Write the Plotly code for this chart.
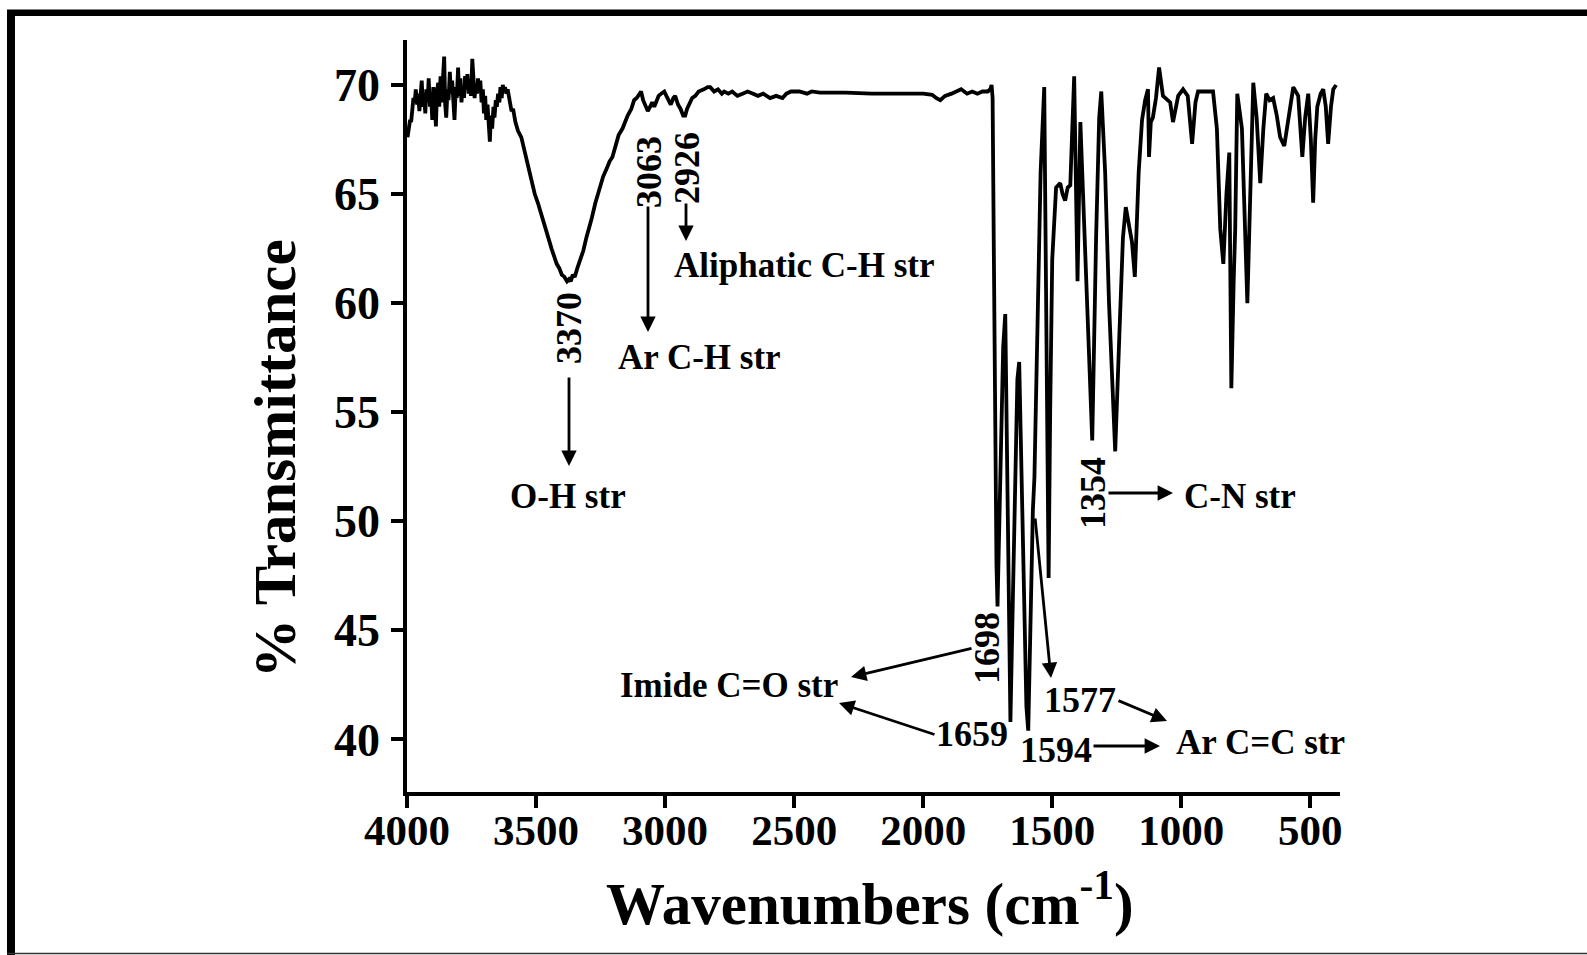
import plotly.graph_objects as go

# ---------------- data ----------------
wavenumber = [
    3998, 3993, 3988, 3984, 3979, 3975, 3970, 3966, 3961, 3957, 3952, 3947, 3943, 3938, 3934,
    3929, 3925, 3920, 3916, 3911, 3907, 3902, 3898, 3893, 3888, 3884, 3879, 3875, 3870, 3866,
    3861, 3856, 3852, 3848, 3843, 3839, 3834, 3830, 3825, 3820, 3816, 3811, 3807, 3802, 3798,
    3793, 3789, 3784, 3779, 3775, 3770, 3766, 3761, 3757, 3752, 3747, 3743, 3738, 3734, 3729,
    3725, 3720, 3716, 3711, 3706, 3702, 3697, 3693, 3688, 3684, 3679, 3675, 3670, 3665, 3661,
    3656, 3652, 3647, 3642, 3638, 3633, 3629, 3624, 3620, 3615, 3610, 3605, 3600, 3595,
    3589, 3580, 3570, 3557, 3545, 3535, 3525, 3515, 3505, 3493, 3480, 3470, 3461, 3450, 3440,
    3430, 3420, 3410, 3400, 3390, 3380, 3372, 3365, 3358, 3350, 3340, 3330, 3317, 3305, 3295,
    3284, 3270, 3260, 3251, 3240, 3225, 3215, 3204, 3190, 3180, 3165, 3155, 3145, 3131, 3120,
    3110, 3100, 3093, 3085, 3075, 3067, 3058, 3050, 3042, 3035, 3025, 3015, 3003, 2995, 2985,
    2978, 2968, 2961, 2950, 2940, 2930, 2922, 2915, 2905, 2895, 2883, 2870, 2850, 2835, 2825,
    2810, 2795, 2780, 2771, 2755, 2740, 2720, 2700, 2680, 2659, 2640, 2620, 2593, 2570, 2545,
    2530, 2512, 2480, 2450, 2432, 2400, 2300, 2200, 2100, 2000, 1965, 1950, 1934, 1915, 1890,
    1870, 1853, 1830, 1810, 1790, 1770, 1750, 1740, 1735, 1731,
    1726, 1720, 1716, 1712, 1700, 1690, 1682, 1675, 1668, 1662, 1655, 1645, 1635, 1628, 1620,
    1610, 1600, 1593, 1585, 1575, 1569, 1560, 1545, 1531, 1524, 1518, 1514, 1508, 1500, 1485,
    1469, 1460, 1450, 1440, 1430, 1415, 1402, 1391, 1375, 1360, 1345, 1330, 1318, 1310, 1295,
    1280, 1265, 1256, 1240, 1226, 1215, 1206, 1198, 1191, 1180, 1165, 1152, 1140, 1129, 1125,
    1118, 1110, 1098, 1086, 1071, 1055, 1043, 1032, 1012, 993, 975, 958, 945, 935, 905,
    877, 862, 849, 837, 825, 814, 806, 797, 791, 783, 765, 744, 732, 721, 708,
    694, 682, 671, 658, 644, 630, 617, 601, 585, 566, 547, 531, 520, 508, 498,
    489, 481, 473, 460, 450, 440, 431, 420, 411, 400,
]

transmittance = [
    67.6, 67.9, 68.4, 68.3, 69.0, 69.4, 69.2, 69.8, 69.1, 69.6, 68.8, 69.9, 70.2, 69.0, 69.5,
    68.7, 69.8, 69.2, 70.3, 69.0, 69.6, 68.4, 69.9, 69.3, 68.1, 69.7, 70.1, 69.0, 70.4, 69.2,
    70.0, 71.3, 69.1, 68.5, 69.8, 69.3, 70.6, 69.6, 70.2, 68.9, 68.4, 69.9, 69.4, 70.8, 69.5,
    70.3, 69.2, 69.9, 69.4, 70.4, 69.8, 70.5, 69.6, 70.1, 69.5, 71.2, 69.9, 69.4, 70.0, 69.6,
    70.3, 69.8, 70.2, 69.2, 69.8, 68.7, 69.5, 68.4, 69.1, 67.9, 67.4, 68.6, 68.0, 69.0, 68.5,
    69.3, 69.0, 69.6, 69.2, 69.9, 69.4, 70.0, 69.7, 69.9, 69.6, 69.8, 69.4, 69.0, 68.8,
    68.9, 68.3, 67.9, 67.6, 67.0, 66.4, 66.0, 65.5, 65.0, 64.6, 64.1, 63.8, 63.4, 62.9, 62.5,
    62.1, 61.8, 61.6, 61.3, 61.2, 61.0, 61.1, 61.0, 61.3, 61.2, 61.6, 61.9, 62.4, 63.0, 63.4,
    63.9, 64.6, 65.0, 65.3, 65.8, 66.2, 66.5, 66.7, 67.3, 67.7, 68.0, 68.3, 68.6, 68.9, 69.3,
    69.4, 69.6, 69.7, 69.3, 69.0, 68.8, 69.0, 69.2, 69.0, 69.2, 69.5, 69.6, 69.7, 69.5, 69.2,
    69.1, 69.4, 69.5, 69.1, 68.9, 68.6, 68.6, 68.9, 69.2, 69.4, 69.5, 69.7, 69.8, 69.9, 69.9,
    69.7, 69.8, 69.6, 69.7, 69.6, 69.7, 69.5, 69.6, 69.7, 69.6, 69.5, 69.6, 69.4, 69.5, 69.4,
    69.6, 69.7, 69.7, 69.6, 69.7, 69.65, 69.65, 69.6, 69.6, 69.6, 69.55, 69.4, 69.3, 69.5, 69.6,
    69.7, 69.8, 69.6, 69.7, 69.6, 69.7, 69.7, 69.8, 70.0, 69.4,
    62.0, 52.0, 48.0, 46.1, 52.0, 58.0, 59.5, 52.0, 44.0, 40.8, 45.0, 52.0, 56.5, 57.3, 53.0,
    46.0, 41.5, 40.4, 46.0, 50.5, 52.0, 58.0, 66.0, 69.9, 60.0, 50.0, 47.4, 55.0, 62.0, 65.3,
    65.5, 65.0, 64.7, 65.3, 65.4, 70.4, 61.0, 68.3, 63.0, 57.5, 53.7, 63.0, 68.5, 69.7, 66.0,
    60.0, 55.0, 53.2, 58.5, 63.0, 64.4, 63.8, 63.4, 62.8, 61.2, 66.0, 68.4, 69.3, 69.8, 66.7,
    68.3, 68.5, 69.4, 70.8, 69.5, 69.3, 69.2, 68.3, 69.5, 69.8, 69.5, 67.3, 69.2, 69.7, 69.7,
    69.7, 68.0, 63.4, 61.8, 65.0, 66.9, 56.1, 61.0, 63.4, 69.6, 68.0, 60.0, 66.0, 70.1, 68.5,
    65.5, 68.0, 69.6, 69.3, 69.4, 68.6, 67.6, 67.2, 68.5, 69.9, 69.5, 66.7, 68.5, 69.6, 67.5,
    64.6, 67.5, 69.0, 69.6, 69.8, 69.0, 67.3, 69.0, 69.8, 70.0,
]

x_ticks = [4000, 3500, 3000, 2500, 2000, 1500, 1000, 500]
y_ticks = [40, 45, 50, 55, 60, 65, 70]

peak_labels = ["3370", "3063", "2926", "1698", "1659", "1594", "1577", "1354"]
band_labels = ["O-H str", "Ar C-H str", "Aliphatic C-H str", "Imide C=O str",
               "Ar C=C str", "C-N str"]

# ---------------- layout geometry (pixels) ----------------
W, H = 1587, 955
L, R, T, B = 407, 1340, 40, 792
PW, PH = R - L, B - T
FONT = "Liberation Serif"


def px(x):
    return (x - L) / PW


def py(y):
    return (B - y) / PH


fig = go.Figure()
fig.add_trace(go.Scatter(
    x=wavenumber, y=transmittance, mode="lines",
    line=dict(color="black", width=3.8), hoverinfo="skip", showlegend=False,
))

anns = []


def text(t, x, y, size=35, angle=0):
    anns.append(dict(text=t, xref="paper", yref="paper", x=px(x), y=py(y),
                     xanchor="center", yanchor="middle", showarrow=False,
                     textangle=angle,
                     font=dict(family=FONT, size=size, color="black", weight="bold")))


def arrow(x0, y0, x1, y1):
    # tail (x0,y0) -> head (x1,y1), pixels
    anns.append(dict(text="", xref="paper", yref="paper", x=px(x1), y=py(y1),
                     axref="pixel", ayref="pixel", ax=x0 - x1, ay=y0 - y1,
                     showarrow=True, arrowhead=2, arrowsize=1.1, arrowwidth=2.8,
                     arrowcolor="black"))


# band labels
text(band_labels[0], 568, 496)
text(band_labels[1], 699, 357)
text(band_labels[2], 804, 265)
text(band_labels[3], 729, 685)
text(band_labels[4], 1260, 742)
text(band_labels[5], 1240, 496)

# peak numbers
NS = 36
text(peak_labels[0], 569, 328, NS, -90)
text(peak_labels[1], 649, 172, NS, -90)
text(peak_labels[2], 687, 168, NS, -90)
text(peak_labels[3], 987, 648, NS, -90)
text(peak_labels[4], 972, 734, NS)
text(peak_labels[5], 1056, 750, NS)
text(peak_labels[6], 1080, 700, NS)
text(peak_labels[7], 1093, 493, NS, -90)

# arrows
arrow(569, 376, 569, 466)
arrow(648, 205, 648, 332)
arrow(686, 202, 686, 241)
arrow(1107, 493, 1173, 493)
arrow(973, 648, 851, 677)
arrow(936, 735, 839, 703)
arrow(1092, 746, 1160, 746)
arrow(1117, 700, 1167, 721)
arrow(1035, 517, 1051, 678)

# axis titles
anns.append(dict(text="Wavenumbers (cm<sup>-1</sup>)", xref="paper", yref="paper",
                 x=px(870), y=py(899), xanchor="center", yanchor="middle", showarrow=False,
                 font=dict(family=FONT, size=59, color="black", weight="bold")))
anns.append(dict(text="% Transmittance", xref="paper", yref="paper",
                 x=px(275), y=py(459), xanchor="center", yanchor="middle", showarrow=False,
                 textangle=-90,
                 font=dict(family=FONT, size=59, color="black", weight="bold")))

shapes = [
    dict(type="line", xref="paper", yref="paper", x0=px(7), x1=px(W), y0=py(12.8), y1=py(12.8),
         line=dict(color="black", width=6.5)),
    dict(type="line", xref="paper", yref="paper", x0=px(11), x1=px(11), y0=py(10), y1=py(W),
         line=dict(color="black", width=8)),
    dict(type="line", xref="paper", yref="paper", x0=px(7), x1=px(W), y0=py(953.5), y1=py(953.5),
         line=dict(color="#333333", width=1.5)),
]

axis_common = dict(showline=True, linecolor="black", linewidth=3.5, mirror=False,
                   ticks="outside", ticklen=12, tickwidth=3.5, tickcolor="black",
                   showgrid=False, zeroline=False)

fig.update_layout(
    width=W, height=H, autosize=False,
    margin=dict(l=L, r=W - R, t=T, b=H - B, pad=0),
    paper_bgcolor="white", plot_bgcolor="white",
    xaxis=dict(range=[4000, 385], tickvals=x_ticks, ticklabelstandoff=-14,
               tickfont=dict(family=FONT, size=43, color="black", weight="bold"),
               **axis_common),
    yaxis=dict(range=[37.59, 72.06], tickvals=y_ticks, ticklabelstandoff=2,
               tickfont=dict(family=FONT, size=46, color="black", weight="bold"),
               **axis_common),
    annotations=anns, shapes=shapes, showlegend=False,
)

fig.write_html("out.html")
